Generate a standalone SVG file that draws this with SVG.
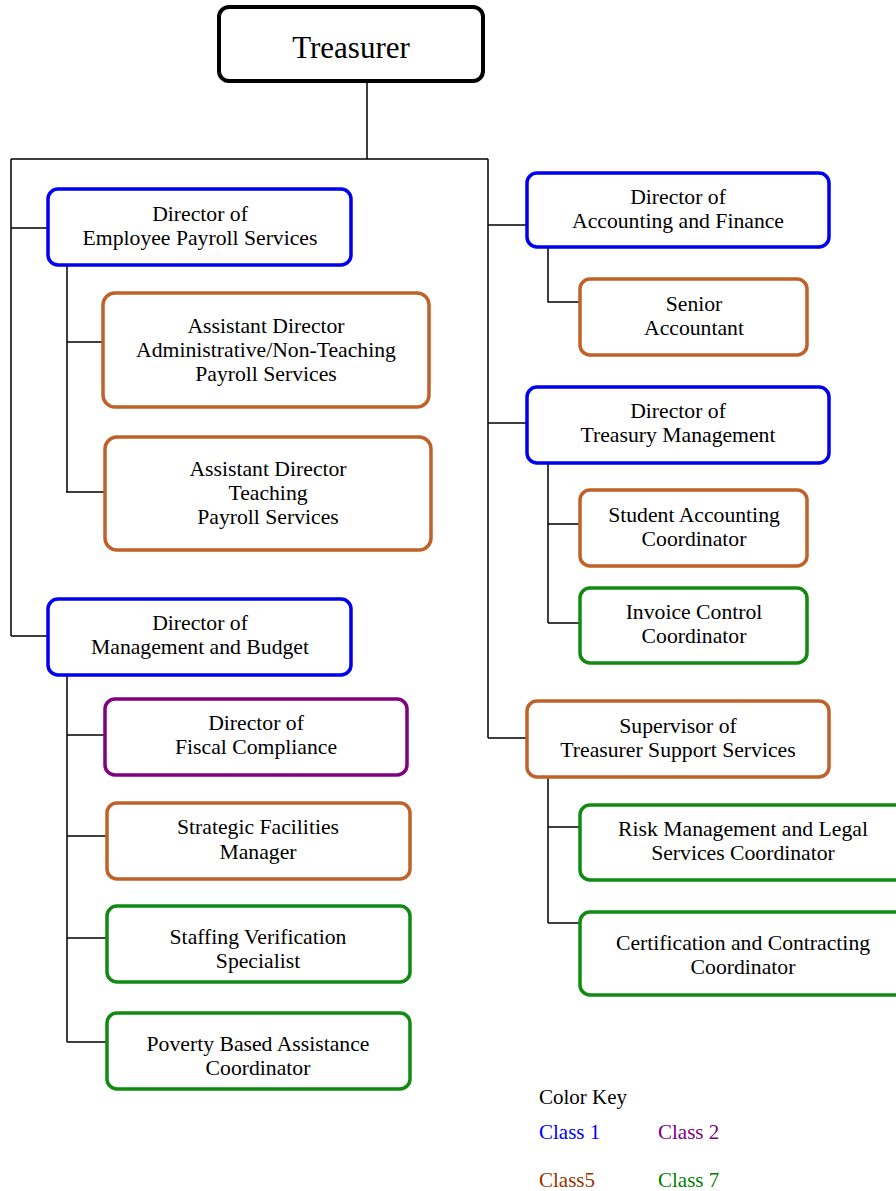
<svg xmlns="http://www.w3.org/2000/svg" width="896" height="1191" viewBox="0 0 896 1191">
<style>
.box{fill:#fff;stroke-width:3.5}
.c0{stroke:#000;stroke-width:4}
.c1{stroke:#0000f0}
.c2{stroke:#800080}
.c5{stroke:#c0612a}
.c7{stroke:#118a11}
text{font-family:"Liberation Serif","Times New Roman",serif;font-size:21.7px;fill:#000;text-anchor:middle}
.key{text-anchor:start;font-size:21px}
#conn path{fill:none;stroke:#000;stroke-width:1.5}
</style>
<rect width="896" height="1191" fill="#fff"/>
<g id="conn">
<path d="M367 81V159M11 159H488M11 159V636M488 159V738"/>
<path d="M11 228H48M11 636H48"/>
<path d="M67 265V492M67 342H103M66 492H105"/>
<path d="M67 675V1042M67 735H105M67 836H107M67 938H107M67 1042H107"/>
<path d="M488 225H527M488 423H527M488 738H527"/>
<path d="M548 247V302H580"/>
<path d="M548 463V623M548 524H580M548 623H580"/>
<path d="M548 777V923M548 827H580M548 923H580"/>
</g>
<g id="treasurer"><rect class="box c0" x="219" y="7" width="264" height="74" rx="10"/><text x="351" y="58" style="font-size:31px">Treasurer</text></g>
<g id="dir-employee"><rect class="box c1" x="48" y="189" width="303" height="76" rx="10"/><text x="200" y="221">Director of</text><text x="200" y="245">Employee Payroll Services</text></g>
<g id="asst-admin"><rect class="box c5" x="103" y="293" width="326" height="114" rx="12"/><text x="266" y="333">Assistant Director</text><text x="266" y="357">Administrative/Non-Teaching</text><text x="266" y="381">Payroll Services</text></g>
<g id="asst-teaching"><rect class="box c5" x="105" y="437" width="326" height="113" rx="12"/><text x="268" y="476">Assistant Director</text><text x="268" y="500">Teaching</text><text x="268" y="524">Payroll Services</text></g>
<g id="dir-mgmt"><rect class="box c1" x="48" y="599" width="303" height="76" rx="10"/><text x="200" y="630">Director of</text><text x="200" y="654">Management and Budget</text></g>
<g id="fiscal"><rect class="box c2" x="105" y="699" width="302" height="76" rx="10"/><text x="256" y="730">Director of</text><text x="256" y="754">Fiscal Compliance</text></g>
<g id="strategic"><rect class="box c5" x="107" y="803" width="303" height="76" rx="10"/><text x="258" y="834">Strategic Facilities</text><text x="258" y="859">Manager</text></g>
<g id="staffing"><rect class="box c7" x="107" y="906" width="303" height="76" rx="10"/><text x="258" y="944">Staffing Verification</text><text x="258" y="968">Specialist</text></g>
<g id="poverty"><rect class="box c7" x="107" y="1013" width="303" height="76" rx="10"/><text x="258" y="1051">Poverty Based Assistance</text><text x="258" y="1075">Coordinator</text></g>
<g id="dir-accounting"><rect class="box c1" x="527" y="173" width="302" height="74" rx="10"/><text x="678" y="204">Director of</text><text x="678" y="228">Accounting and Finance</text></g>
<g id="senior"><rect class="box c5" x="580" y="279" width="227" height="76" rx="10"/><text x="694" y="311">Senior</text><text x="694" y="335">Accountant</text></g>
<g id="dir-treasury"><rect class="box c1" x="527" y="387" width="302" height="76" rx="10"/><text x="678" y="418">Director of</text><text x="678" y="442">Treasury Management</text></g>
<g id="student"><rect class="box c5" x="580" y="490" width="227" height="76" rx="10"/><text x="694" y="522">Student Accounting</text><text x="694" y="546">Coordinator</text></g>
<g id="invoice"><rect class="box c7" x="580" y="588" width="227" height="75" rx="10"/><text x="694" y="619">Invoice Control</text><text x="694" y="643">Coordinator</text></g>
<g id="supervisor"><rect class="box c5" x="527" y="701" width="302" height="76" rx="10"/><text x="678" y="733">Supervisor of</text><text x="678" y="757">Treasurer Support Services</text></g>
<g id="risk"><rect class="box c7" x="580" y="805" width="330" height="75" rx="10"/><text x="743" y="836">Risk Management and Legal</text><text x="743" y="860">Services Coordinator</text></g>
<g id="certification"><rect class="box c7" x="580" y="912" width="330" height="83" rx="10"/><text x="743" y="950">Certification and Contracting</text><text x="743" y="974">Coordinator</text></g>
<g id="key">
<text class="key" x="539" y="1104">Color Key</text>
<text class="key" x="539" y="1139" style="fill:#0000ff">Class 1</text>
<text class="key" x="658" y="1139" style="fill:#800080">Class 2</text>
<text class="key" x="539" y="1187" style="fill:#993300">Class5</text>
<text class="key" x="658" y="1187" style="fill:#008000">Class 7</text>
</g>
</svg>
